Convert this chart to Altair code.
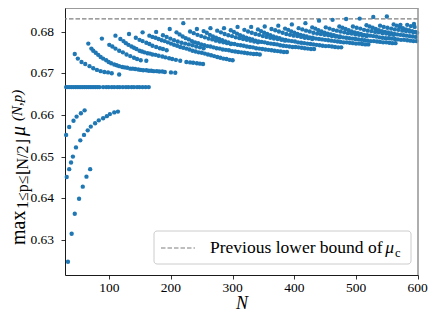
import altair as alt
import pandas as pd

# ---------------- data ----------------
X_TICKS = [100, 200, 300, 400, 500, 600]
Y_TICKS = [0.63, 0.64, 0.65, 0.66, 0.67, 0.68]
PREV_BOUND = 0.68305

L1_N = [33, 39, 44, 51, 57, 63, 69]
L1_MU = [0.6248, 0.6315, 0.6363, 0.6399, 0.6428, 0.6452, 0.6470]

L2_N = [31, 35, 38, 41, 46, 53, 59, 65, 70, 77, 83, 90, 96, 101, 108, 114]
L2_MU = [0.6451, 0.6470, 0.6486, 0.6500, 0.6522, 0.6539, 0.6552, 0.6563, 0.6572, 0.6580,
         0.6587, 0.6592, 0.6597, 0.6602, 0.6606, 0.6608]

L0_N = [30, 35, 42, 47, 54, 60]
L0_MU = [0.6552, 0.6571, 0.6586, 0.6596, 0.6604, 0.6611]

TT_N = [30, 33, 36, 39, 42, 45, 48, 51, 54, 57, 60, 63, 66, 69, 72, 75, 78, 81, 84,
        90, 95, 99, 104, 108, 113, 117, 122, 127, 131, 136, 140, 145, 149, 154, 159, 164]
TT_MU = [0.66667, 0.66667, 0.66667, 0.66667, 0.66667, 0.66667, 0.66667, 0.66667, 0.66667,
         0.66667, 0.66667, 0.66667, 0.66667, 0.66667, 0.66667, 0.66667, 0.66667, 0.66667,
         0.66667, 0.66667, 0.66667, 0.66667, 0.66667, 0.66667, 0.66667, 0.66667, 0.66667,
         0.66667, 0.66667, 0.66667, 0.66667, 0.66667, 0.66667, 0.66667, 0.66667, 0.66667]

U1_N = [44, 49, 55, 61, 68, 74, 80, 86, 92, 98, 104, 116]
U1_MU = [0.6746, 0.6735, 0.6727, 0.6722, 0.6717, 0.6712, 0.6708, 0.6705, 0.6703, 0.6702,
         0.6700, 0.6697]

E0_N = [66, 71, 74, 78, 82, 86, 90, 95, 99, 103, 108, 112, 116, 121, 125, 129, 134, 138,
        142, 147, 151, 155, 160, 164, 168, 172, 177, 181, 186, 190, 200, 207]
E0_MU = [0.6771, 0.6759, 0.6754, 0.6749, 0.6744, 0.6739, 0.6735, 0.6731, 0.6727, 0.6724,
         0.6721, 0.6719, 0.6717, 0.6715, 0.6714, 0.6713, 0.6711, 0.6711, 0.6710, 0.6709,
         0.6708, 0.6707, 0.6707, 0.6706, 0.6706, 0.6705, 0.6705, 0.6704, 0.6704, 0.6703,
         0.6702, 0.6701]

O1_N = [88, 100, 105, 110, 116, 122, 128, 134, 140, 145, 151, 160, 225, 231, 236, 242, 247, 252]
O1_MU = [0.6783, 0.6768, 0.6764, 0.6759, 0.6754, 0.6750, 0.6745, 0.6741, 0.6737, 0.6734,
         0.6731, 0.6730, 0.6727, 0.6726, 0.6725, 0.6724, 0.6723, 0.6722]

E1_N = [110, 118, 123, 127, 131, 136, 140, 144, 149, 153, 157, 162, 166, 170, 175, 180, 186,
        191, 197, 202, 208, 215]
E1_MU = [0.6790, 0.6782, 0.6777, 0.6772, 0.6768, 0.6764, 0.6761, 0.6758, 0.6754, 0.6752,
         0.6750, 0.6748, 0.6747, 0.6745, 0.6744, 0.6742, 0.6740, 0.6738, 0.6736, 0.6734,
         0.6732, 0.6730]

O2_N = [132, 143, 149, 154, 160, 165, 170, 176, 182, 187, 193]
O2_MU = [0.6794, 0.6785, 0.6780, 0.6777, 0.6773, 0.6770, 0.6766, 0.6763, 0.6760, 0.6758, 0.6755]

E2_N = [154, 165, 170, 175, 180, 185, 190, 195, 200, 205, 210, 215, 220, 225, 230, 235, 240,
        245, 250, 255, 260, 265, 270, 275, 280, 285, 290, 295, 300]
E2_MU = [0.6798, 0.6790, 0.6787, 0.6785, 0.6782, 0.6779, 0.6777, 0.6774, 0.6771, 0.6768,
         0.6766, 0.6763, 0.6761, 0.6759, 0.6757, 0.6754, 0.6752, 0.6750, 0.6749, 0.6747,
         0.6745, 0.6743, 0.6741, 0.6739, 0.6737, 0.6735, 0.6734, 0.6732, 0.6731]

E3_N = [198, 209, 214, 219, 224, 229, 234, 239, 244, 249, 254, 259, 264, 269, 274, 279, 284,
        289, 294, 299, 304, 309, 314, 319, 324, 329, 334, 339, 344]
E3_MU = [0.6806, 0.6798, 0.6793, 0.6788, 0.6784, 0.6781, 0.6777, 0.6774, 0.6772, 0.6769,
         0.6767, 0.6765, 0.6764, 0.6762, 0.6760, 0.6759, 0.6757, 0.6756, 0.6755, 0.6753,
         0.6752, 0.6751, 0.6750, 0.6749, 0.6748, 0.6747, 0.6746, 0.6746, 0.6745]

E4_N = [242, 253, 258, 263, 268, 273, 278, 283, 288, 293, 298, 303, 308, 313, 318, 323, 328,
        333, 338, 343, 348, 353, 358, 363, 368, 373, 378, 383, 388]
E4_MU = [0.6806, 0.6801, 0.6797, 0.6792, 0.6788, 0.6785, 0.6782, 0.6779, 0.6776, 0.6774,
         0.6771, 0.6770, 0.6768, 0.6767, 0.6766, 0.6764, 0.6763, 0.6762, 0.6760, 0.6759,
         0.6758, 0.6757, 0.6756, 0.6755, 0.6754, 0.6753, 0.6752, 0.6751, 0.6751]

E5_N = [286, 297, 302, 307, 312, 317, 322, 327, 332, 337, 342, 347, 352, 357, 362, 367, 372,
        377, 382, 387, 392, 397, 402, 407, 412, 417, 422, 427, 432]
E5_MU = [0.6808, 0.6803, 0.6799, 0.6795, 0.6791, 0.6788, 0.6785, 0.6783, 0.6781, 0.6778,
         0.6776, 0.6775, 0.6774, 0.6772, 0.6771, 0.6770, 0.6769, 0.6767, 0.6766, 0.6765,
         0.6764, 0.6763, 0.6763, 0.6762, 0.6761, 0.6760, 0.6759, 0.6758, 0.6758]

E6_N = [330, 341, 346, 351, 356, 361, 366, 371, 376, 381, 386, 391, 396, 401, 406, 411, 416,
        421, 426, 431, 436, 441, 446, 451, 456, 461, 466, 471, 476]
E6_MU = [0.6811, 0.6805, 0.6801, 0.6797, 0.6794, 0.6791, 0.6788, 0.6786, 0.6784, 0.6781,
         0.6780, 0.6778, 0.6777, 0.6776, 0.6774, 0.6773, 0.6772, 0.6771, 0.6770, 0.6769,
         0.6768, 0.6767, 0.6766, 0.6765, 0.6765, 0.6764, 0.6763, 0.6762, 0.6762]

E7_N = [374, 385, 390, 395, 400, 405, 410, 415, 420, 425, 430, 435, 440, 445, 450, 455, 460,
        465, 470, 475, 480, 485, 490, 495, 500, 505, 510, 515, 520]
E7_MU = [0.6814, 0.6807, 0.6804, 0.6800, 0.6797, 0.6794, 0.6792, 0.6790, 0.6788, 0.6786,
         0.6785, 0.6783, 0.6782, 0.6781, 0.6780, 0.6779, 0.6778, 0.6777, 0.6776, 0.6775,
         0.6774, 0.6774, 0.6773, 0.6772, 0.6771, 0.6771, 0.6770, 0.6769, 0.6769]

E8_N = [418, 429, 434, 439, 444, 449, 454, 459, 464, 469, 474, 479, 484, 489, 494, 499, 504,
        509, 514, 519, 524, 529, 534, 539, 544, 549, 554, 559, 564]
E8_MU = [0.6820, 0.6810, 0.6807, 0.6803, 0.6800, 0.6797, 0.6795, 0.6793, 0.6791, 0.6789,
         0.6788, 0.6786, 0.6785, 0.6784, 0.6783, 0.6782, 0.6781, 0.6780, 0.6779, 0.6778,
         0.6777, 0.6777, 0.6776, 0.6775, 0.6774, 0.6774, 0.6773, 0.6772, 0.6772]

E9_N = [462, 473, 478, 483, 488, 493, 498, 503, 508, 513, 518, 523, 528, 533, 538, 543, 548,
        553, 558, 563, 568, 573, 578, 583, 588, 593, 598]
E9_MU = [0.6828, 0.6812, 0.6809, 0.6806, 0.6803, 0.6800, 0.6798, 0.6796, 0.6794, 0.6792,
         0.6791, 0.6790, 0.6789, 0.6788, 0.6786, 0.6785, 0.6784, 0.6784, 0.6783, 0.6782,
         0.6781, 0.6780, 0.6780, 0.6779, 0.6778, 0.6777, 0.6777]

E10_N = [506, 517, 522, 527, 532, 537, 542, 547, 552, 557, 562, 567, 572, 577, 582, 587, 592, 597]
E10_MU = [0.6831, 0.6815, 0.6812, 0.6809, 0.6806, 0.6803, 0.6801, 0.6799, 0.6798, 0.6796,
          0.6794, 0.6793, 0.6792, 0.6791, 0.6790, 0.6789, 0.6788, 0.6787]

E11_N = [550, 561, 566, 571, 576, 581, 586, 591, 596]
E11_MU = [0.6836, 0.6817, 0.6814, 0.6811, 0.6808, 0.6805, 0.6803, 0.6801, 0.6799]

E12_N = [594]
E12_MU = [0.6818]

O3_N = [176, 187, 193, 199, 205, 211, 217, 223, 229, 235, 241, 247, 253]
O3_MU = [0.6799, 0.6791, 0.6787, 0.6783, 0.6779, 0.6776, 0.6773, 0.6771, 0.6769, 0.6767,
         0.6764, 0.6762, 0.6760]
O4_N = [220, 231, 237, 243, 249, 255, 261, 267, 273, 279, 285, 291, 297]
O4_MU = [0.6820, 0.6800, 0.6796, 0.6792, 0.6789, 0.6786, 0.6783, 0.6781, 0.6778, 0.6776,
         0.6774, 0.6772, 0.6770]
O5_N = [264, 275, 281, 287, 293, 299, 305, 311, 317, 323, 329, 335, 341]
O5_MU = [0.6808, 0.6802, 0.6798, 0.6794, 0.6791, 0.6789, 0.6786, 0.6784, 0.6782, 0.6780,
         0.6778, 0.6776, 0.6774]
O6_N = [308, 319, 325, 331, 337, 343, 349, 355, 361, 367, 373, 379, 385]
O6_MU = [0.6811, 0.6804, 0.6800, 0.6797, 0.6794, 0.6792, 0.6789, 0.6787, 0.6785, 0.6783,
         0.6782, 0.6780, 0.6778]
O7_N = [352, 363, 369, 375, 381, 387, 393, 399, 405, 411, 417, 423, 429]
O7_MU = [0.6812, 0.6806, 0.6803, 0.6800, 0.6797, 0.6794, 0.6792, 0.6790, 0.6789, 0.6787,
         0.6785, 0.6784, 0.6782]
O8_N = [396, 407, 413, 419, 425, 431, 437, 443, 449, 455, 461, 467, 473]
O8_MU = [0.6817, 0.6808, 0.6805, 0.6802, 0.6800, 0.6797, 0.6795, 0.6794, 0.6792, 0.6791,
         0.6789, 0.6788, 0.6786]
O9_N = [440, 451, 457, 463, 469, 475, 481, 487, 493, 499, 505, 511, 517]
O9_MU = [0.6826, 0.6810, 0.6807, 0.6804, 0.6802, 0.6800, 0.6798, 0.6796, 0.6795, 0.6793,
         0.6792, 0.6790, 0.6789]
O10_N = [484, 495, 501, 507, 513, 519, 525, 531, 537, 543, 549, 555, 561]
O10_MU = [0.6830, 0.6812, 0.6809, 0.6807, 0.6804, 0.6802, 0.6801, 0.6799, 0.6798, 0.6796,
          0.6795, 0.6793, 0.6792]
O11_N = [528, 539, 545, 551, 557, 563, 569, 575, 581, 587, 593, 599]
O11_MU = [0.6835, 0.6814, 0.6811, 0.6809, 0.6807, 0.6805, 0.6804, 0.6802, 0.6801, 0.6800,
          0.6798, 0.6797]
O12_N = [572, 583, 589, 595]
O12_MU = [0.6816, 0.6816, 0.6813, 0.6811]

BRANCHES = [
    (L1_N, L1_MU), (L2_N, L2_MU), (L0_N, L0_MU), (TT_N, TT_MU), (U1_N, U1_MU),
    (E0_N, E0_MU), (O1_N, O1_MU), (E1_N, E1_MU), (O2_N, O2_MU), (E2_N, E2_MU),
    (E3_N, E3_MU), (E4_N, E4_MU), (E5_N, E5_MU), (E6_N, E6_MU), (E7_N, E7_MU),
    (E8_N, E8_MU), (E9_N, E9_MU), (E10_N, E10_MU), (E11_N, E11_MU), (E12_N, E12_MU),
    (O3_N, O3_MU), (O4_N, O4_MU), (O5_N, O5_MU), (O6_N, O6_MU), (O7_N, O7_MU),
    (O8_N, O8_MU), (O9_N, O9_MU), (O10_N, O10_MU), (O11_N, O11_MU), (O12_N, O12_MU),
]

rows_n, rows_mu = [], []
for ns, mus in BRANCHES:
    rows_n.extend(ns)
    rows_mu.extend(mus)
df = pd.DataFrame({"N": rows_n, "mu": rows_mu})

# ---------------- chart ----------------
W, H = 353, 267
FONT = "Liberation Serif"
BLUE = "#1f77b4"

xscale = alt.Scale(domain=[28.2, 600.5], nice=False, zero=False)
yscale = alt.Scale(domain=[0.62161, 0.68564], nice=False, zero=False)

AXIS_STYLE = dict(grid=False, labels=False,
                  tickColor="#000", tickSize=4, tickWidth=0.8,
                  domainColor="#000", domainWidth=0.9, title=None)
xaxis = alt.Axis(values=X_TICKS, **AXIS_STYLE)
yaxis = alt.Axis(values=Y_TICKS, **AXIS_STYLE)

points = alt.Chart(df).mark_circle(size=19, color=BLUE, opacity=1).encode(
    x=alt.X("N:Q", scale=xscale, axis=xaxis),
    y=alt.Y("mu:Q", scale=yscale, axis=yaxis),
)

bound = alt.Chart(pd.DataFrame({"mu": [PREV_BOUND]})).mark_rule(
    color="#7f7f7f", strokeDash=[4.5, 2], strokeWidth=1.2
).encode(y=alt.Y("mu:Q", scale=yscale, axis=yaxis))

# tick labels, placed through the same scales
xlab_df = pd.DataFrame({"N": X_TICKS, "lbl": [str(v) for v in X_TICKS]})
ylab_df = pd.DataFrame({"mu": Y_TICKS, "lbl": [f"{v:.2f}" for v in Y_TICKS]})

xticklabels = alt.Chart(xlab_df).mark_text(font=FONT, fontSize=13.5, color="#000",
                                           align="center", baseline="middle").encode(
    x=alt.X("N:Q", scale=xscale, axis=xaxis), y=alt.value(H + 13), text="lbl:N")
yticklabels = alt.Chart(ylab_df).mark_text(font=FONT, fontSize=13.5, color="#000",
                                           align="right", baseline="middle").encode(
    y=alt.Y("mu:Q", scale=yscale, axis=yaxis), x=alt.value(-11), text="lbl:N")

one = pd.DataFrame({"a": [0]})

top_spine = alt.Chart(one).mark_rule(color="#222", strokeWidth=0.9).encode(
    x=alt.value(0), x2=alt.value(W), y=alt.value(0))
right_spine = alt.Chart(one).mark_rule(color="#9a9a9a", strokeWidth=1.6).encode(
    x=alt.value(W), y=alt.value(0), y2=alt.value(H))

leg_box = alt.Chart(one).mark_rect(fill="white", fillOpacity=0.85, stroke="#cccccc",
                                   strokeWidth=1, cornerRadius=3).encode(
    x=alt.value(89), x2=alt.value(346), y=alt.value(223), y2=alt.value(256))
leg_line = alt.Chart(one).mark_rule(color="#7f7f7f", strokeDash=[4.5, 2], strokeWidth=1.2).encode(
    x=alt.value(96), x2=alt.value(130), y=alt.value(240))
leg_text = alt.Chart(one).mark_text(text="Previous lower bound of", font=FONT, fontSize=17.5,
                                    align="left", baseline="middle", color="#000").encode(
    x=alt.value(145), y=alt.value(240))
leg_mu = alt.Chart(one).mark_text(text="μ", font=FONT, fontSize=17.5, fontStyle="italic",
                                  align="right", baseline="middle", color="#000").encode(
    x=alt.value(329), y=alt.value(240))
leg_sub = alt.Chart(one).mark_text(text="c", font=FONT, fontSize=12.5,
                                   align="left", baseline="middle", color="#000").encode(
    x=alt.value(330), y=alt.value(245))

def vtext(txt, size, x, y, style="normal"):
    return alt.Chart(one).mark_text(text=txt, font=FONT, fontSize=size, angle=270,
                                    align="left", baseline="alphabetic", color="#000",
                                    fontStyle=style).encode(x=alt.value(x), y=alt.value(y))

ylab_max = vtext("max", 20, -40, 237)
ylab_sub = vtext("1≤p≤⌊N/2⌋", 16, -37, 201)
ylab_mu = vtext("μ", 20, -40, 128, "italic")
ylab_sup = vtext("(N,p)", 15, -43, 113, "italic")

xlab = alt.Chart(one).mark_text(text="N", font=FONT, fontSize=18, fontStyle="italic",
                                align="center", baseline="middle", color="#000").encode(
    x=alt.value(177), y=alt.value(296))

chart = alt.layer(
    bound, points, xticklabels, yticklabels, top_spine, right_spine,
    leg_box, leg_line, leg_text, leg_mu, leg_sub,
    ylab_max, ylab_sub, ylab_mu, ylab_sup, xlab
).properties(
    width=W, height=H,
    autosize=alt.AutoSizeParams(type="none"),
    padding={"left": 57, "top": 0, "right": 10, "bottom": 37},
).configure(
    background="white", font=FONT
).configure_view(
    stroke=None
)

chart.save("out.html", embed_options={"renderer": "svg", "actions": False})
